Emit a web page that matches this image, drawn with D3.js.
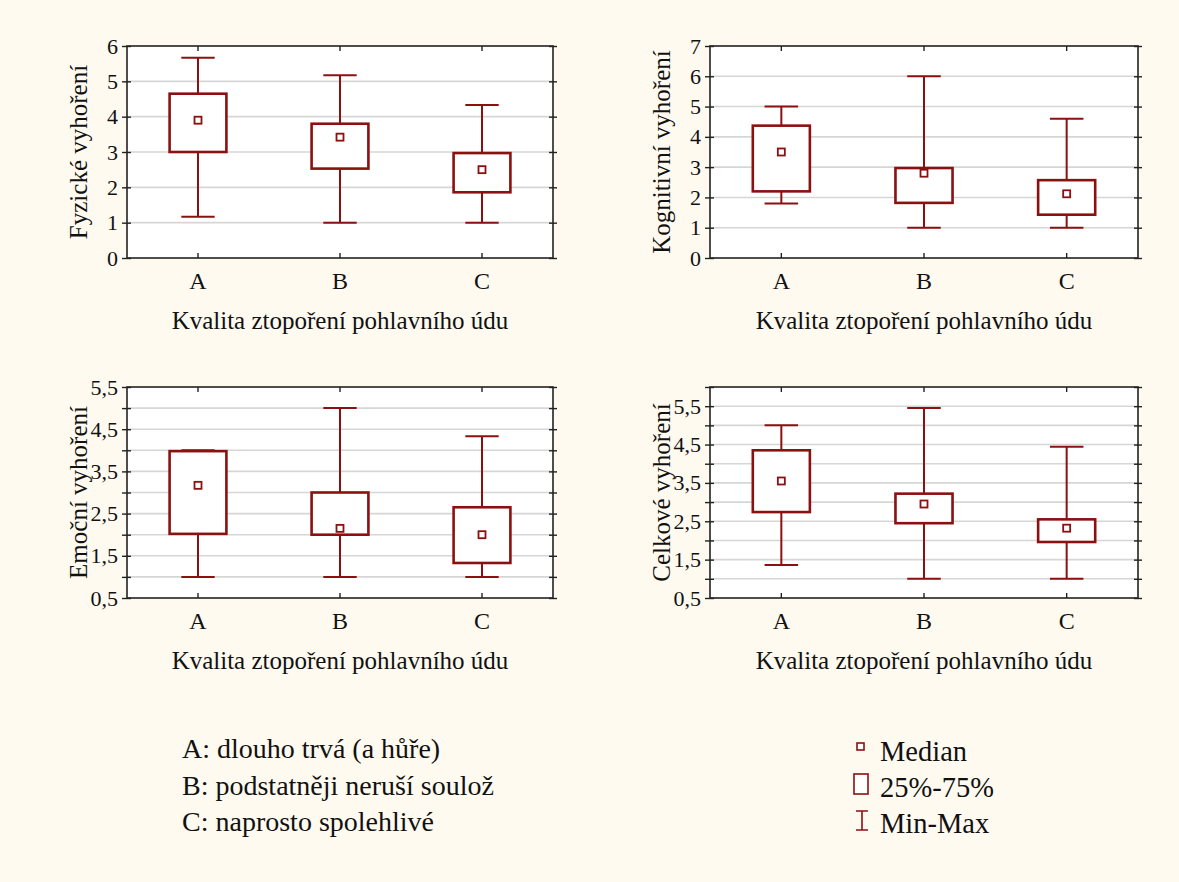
<!DOCTYPE html>
<html lang="cs">
<head>
<meta charset="utf-8">
<script src="https://cdn.jsdelivr.net/npm/d3@7"></script>
<style>
  body { margin: 0; background: #fffaf0; }
  svg { display: block; }
  svg text { font-family: "Liberation Serif", serif; }
</style>
</head>
<body>
<svg id="chart" width="1179" height="882"></svg>
<script>
/* Values */
var categories = ["A", "B", "C"];

// each row: min, 25%, median, 75%, max
var fyzicke = [
    {cat: "A", min: 1.17, q1: 3.0, med: 3.9, q3: 4.65, max: 5.67},
    {cat: "B", min: 1.0, q1: 2.53, med: 3.42, q3: 3.8, max: 5.17},
    {cat: "C", min: 1.0, q1: 1.86, med: 2.5, q3: 2.97, max: 4.33}
];
var kognitivni = [
    {cat: "A", min: 1.8, q1: 2.2, med: 3.5, q3: 4.37, max: 5.0},
    {cat: "B", min: 1.0, q1: 1.82, med: 2.8, q3: 2.97, max: 6.0},
    {cat: "C", min: 1.0, q1: 1.43, med: 2.12, q3: 2.57, max: 4.6}
];
var emocni = [
    {cat: "A", min: 1.0, q1: 2.02, med: 3.17, q3: 3.98, max: 4.0},
    {cat: "B", min: 1.0, q1: 2.0, med: 2.15, q3: 3.0, max: 5.0},
    {cat: "C", min: 1.0, q1: 1.33, med: 2.0, q3: 2.65, max: 4.33}
];
var celkove = [
    {cat: "A", min: 1.36, q1: 2.74, med: 3.55, q3: 4.35, max: 5.0},
    {cat: "B", min: 1.0, q1: 2.45, med: 2.95, q3: 3.22, max: 5.45},
    {cat: "C", min: 1.0, q1: 1.96, med: 2.32, q3: 2.55, max: 4.44}
];

var ticksInt6 = [0, 1, 2, 3, 4, 5, 6];
var ticksInt7 = [0, 1, 2, 3, 4, 5, 6, 7];
var ticksHalf55 = [0.5, 1, 1.5, 2, 2.5, 3, 3.5, 4, 4.5, 5, 5.5];
var ticksHalf6 = [0.5, 1, 1.5, 2, 2.5, 3, 3.5, 4, 4.5, 5, 5.5, 6];
var labelsInt6 = [0, 1, 2, 3, 4, 5, 6];
var labelsInt7 = [0, 1, 2, 3, 4, 5, 6, 7];
var labelsHalf = [0.5, 1.5, 2.5, 3.5, 4.5, 5.5];

var xTitle = "Kvalita ztopoření pohlavního údu";
var legendCats = ["A: dlouho trvá (a hůře)", "B: podstatněji neruší soulož", "C: naprosto spolehlivé"];
var legendKeys = ["Median", "25%-75%", "Min-Max"];

var boxColor = "#8b1010";

var svg = d3.select("#chart");

svg.append("rect")
    .attr("width", 1179)
    .attr("height", 882)
    .attr("fill", "#fffaf0");

/* One box plot panel */
function drawPanel(o) {
    var g = svg.append("g")
        .attr("transform", "translate(" + o.left + "," + o.top + ")");
    var w = o.width, h = o.height;

    var x = d3.scaleBand().domain(categories).range([0, w]);
    var y = d3.scaleLinear().domain(o.domain).range([h, 0]);

    var fmt = function(d) {
        if (o.labels.indexOf(d) < 0) return "";
        return o.decimals ? d3.format(".1f")(d).replace(".", ",") : d3.format("d")(d);
    };

    g.append("rect")
        .attr("width", w)
        .attr("height", h)
        .attr("fill", "white");

    // grid
    g.selectAll("line.grid")
        .data(o.ticks.filter(t => t > o.domain[0] && t < o.domain[1]))
        .enter()
        .append("line")
        .attr("class", "grid")
        .attr("x1", 0)
        .attr("x2", w)
        .attr("y1", d => y(d))
        .attr("y2", d => y(d))
        .attr("stroke", "#d6d6d6")
        .attr("stroke-width", 1.6);

    // axes (labels + ticks on both sides)
    var axes = [
        g.append("g").call(d3.axisLeft(y).tickValues(o.ticks).tickSize(5).tickSizeOuter(0).tickPadding(4).tickFormat(fmt)),
        g.append("g").call(d3.axisRight(y).tickValues(o.ticks).tickSize(4).tickSizeOuter(0).tickFormat("")),
        g.append("g").attr("transform", "translate(" + w + ",0)")
            .call(d3.axisRight(y).tickValues(o.ticks).tickSize(4).tickSizeOuter(0).tickFormat("")),
        g.append("g").attr("transform", "translate(" + w + ",0)")
            .call(d3.axisLeft(y).tickValues(o.ticks).tickSize(4).tickSizeOuter(0).tickFormat("")),
        g.append("g").call(d3.axisBottom(x).tickSize(5).tickSizeOuter(0).tickFormat("")),
        g.append("g").attr("transform", "translate(0," + h + ")")
            .call(d3.axisTop(x).tickSize(5).tickSizeOuter(0).tickFormat("")),
        g.append("g").attr("transform", "translate(0," + h + ")")
            .call(d3.axisBottom(x).tickSize(0).tickPadding(14))
    ];
    axes.forEach(a => {
        a.select(".domain").remove();
        a.attr("font-family", null).attr("font-size", 22);
        a.selectAll("line").attr("stroke", "#222").attr("stroke-width", 1.4);
        a.selectAll("text").attr("fill", "#111");
    });
    axes[6].selectAll("text").attr("font-size", 24);

    // whiskers
    var cap = x.bandwidth() * 0.235;
    var half = x.bandwidth() * 0.2;
    var cx = d => x(d.cat) + x.bandwidth() / 2;

    g.selectAll("line.whiskUp")
        .data(o.data)
        .enter()
        .append("line")
        .attr("x1", cx).attr("x2", cx)
        .attr("y1", d => y(d.q3)).attr("y2", d => y(d.max))
        .attr("stroke", boxColor).attr("stroke-width", 2);
    g.selectAll("line.whiskDown")
        .data(o.data)
        .enter()
        .append("line")
        .attr("x1", cx).attr("x2", cx)
        .attr("y1", d => y(d.q1)).attr("y2", d => y(d.min))
        .attr("stroke", boxColor).attr("stroke-width", 2);
    ["min", "max"].forEach(k => {
        g.selectAll("line.cap" + k)
            .data(o.data)
            .enter()
            .append("line")
            .attr("x1", d => cx(d) - cap / 2).attr("x2", d => cx(d) + cap / 2)
            .attr("y1", d => y(d[k])).attr("y2", d => y(d[k]))
            .attr("stroke", boxColor).attr("stroke-width", 2);
    });

    // boxes
    g.selectAll("rect.box")
        .data(o.data)
        .enter()
        .append("rect")
        .attr("x", d => cx(d) - half)
        .attr("y", d => y(d.q3))
        .attr("width", half * 2)
        .attr("height", d => y(d.q1) - y(d.q3))
        .attr("fill", "white")
        .attr("stroke", boxColor)
        .attr("stroke-width", 2.6);

    // medians
    g.selectAll("rect.med")
        .data(o.data)
        .enter()
        .append("rect")
        .attr("x", d => cx(d) - 3.5)
        .attr("y", d => y(d.med) - 3.5)
        .attr("width", 7)
        .attr("height", 7)
        .attr("fill", "white")
        .attr("stroke", boxColor)
        .attr("stroke-width", 1.8);

    // frame
    g.append("rect")
        .attr("width", w)
        .attr("height", h)
        .attr("fill", "none")
        .attr("stroke", "#222")
        .attr("stroke-width", 1.6);

    /* titles */
    g.append("text")
        .attr("x", w / 2)
        .attr("y", h + 71)
        .attr("text-anchor", "middle")
        .attr("font-size", 25)
        .attr("fill", "#111")
        .text(xTitle);
    g.append("text")
        .attr("transform", "translate(-40," + (h / 2) + ") rotate(-90)")
        .attr("text-anchor", "middle")
        .attr("font-size", 25)
        .attr("fill", "#111")
        .text(o.title);
}

drawPanel({left: 127, top: 46, width: 426, height: 212, domain: [0, 6], ticks: ticksInt6, labels: labelsInt6, decimals: false, data: fyzicke, title: "Fyzické vyhoření"});
drawPanel({left: 710, top: 46, width: 428, height: 212, domain: [0, 7], ticks: ticksInt7, labels: labelsInt7, decimals: false, data: kognitivni, title: "Kognitivní vyhoření"});
drawPanel({left: 127, top: 387, width: 426, height: 211, domain: [0.5, 5.5], ticks: ticksHalf55, labels: labelsHalf, decimals: true, data: emocni, title: "Emoční vyhoření"});
drawPanel({left: 710, top: 387, width: 428, height: 211, domain: [0.5, 6], ticks: ticksHalf6, labels: labelsHalf, decimals: true, data: celkove, title: "Celkové vyhoření"});

/*** Legends ***/
svg.append("g")
    .selectAll("text")
    .data(legendCats)
    .enter()
    .append("text")
    .attr("x", 182)
    .attr("y", (d, i) => 758 + i * 36.5)
    .attr("font-size", 28)
    .attr("fill", "#111")
    .text(d => d);

var key = svg.append("g");
key.selectAll("text")
    .data(legendKeys)
    .enter()
    .append("text")
    .attr("x", 880)
    .attr("y", (d, i) => 761 + i * 36)
    .attr("font-size", 28.5)
    .attr("fill", "#111")
    .text(d => d);

key.append("rect")
    .attr("x", 857).attr("y", 743)
    .attr("width", 7).attr("height", 7)
    .attr("fill", "white").attr("stroke", boxColor).attr("stroke-width", 1.6);
key.append("rect")
    .attr("x", 854).attr("y", 774)
    .attr("width", 14).attr("height", 20)
    .attr("fill", "white").attr("stroke", boxColor).attr("stroke-width", 1.6);
key.append("path")
    .attr("d", "M856,811H868M862,811V830M856,830H868")
    .attr("fill", "none").attr("stroke", boxColor).attr("stroke-width", 1.6);
/*** --end legends ***/
</script>
</body>
</html>
